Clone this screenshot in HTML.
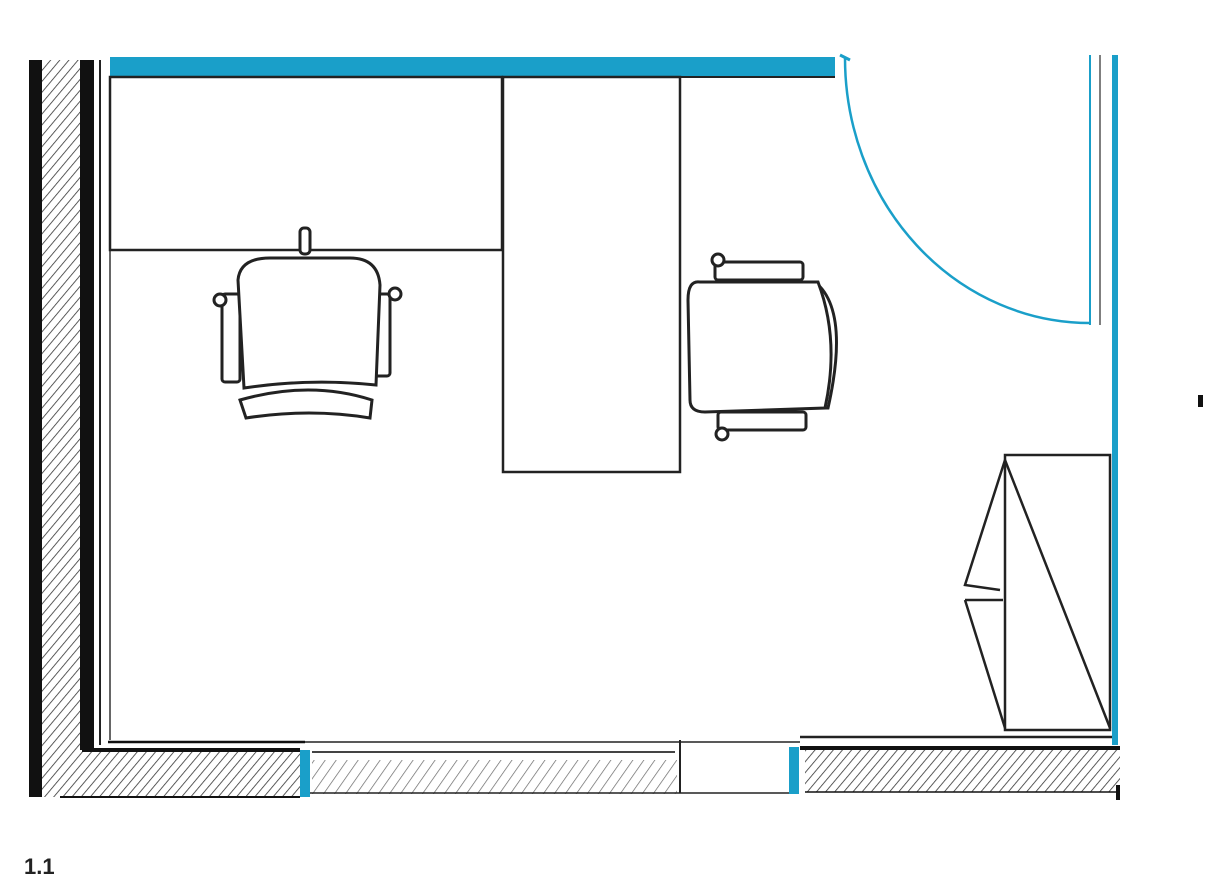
<!DOCTYPE html>
<html><head><style>body{margin:0;background:#fff}svg{display:block}</style></head><body>
<svg width="1206" height="882" viewBox="0 0 1206 882" xmlns="http://www.w3.org/2000/svg">
<defs>
<pattern id="h" width="7" height="7" patternUnits="userSpaceOnUse" patternTransform="rotate(40)">
<rect width="7" height="7" fill="#fff"/><line x1="0" y1="0" x2="0" y2="7" stroke="#333" stroke-width="1.6"/></pattern>
<pattern id="h2" width="9" height="9" patternUnits="userSpaceOnUse" patternTransform="rotate(35)">
<rect width="9" height="9" fill="#fff"/><line x1="0" y1="0" x2="0" y2="9" stroke="#666" stroke-width="1.4"/></pattern>
</defs>
<rect x="42" y="60" width="40" height="737" fill="url(#h)"/>
<rect x="29" y="60" width="13" height="737" fill="#111"/>
<rect x="80" y="60" width="14" height="690" fill="#111"/>
<line x1="100" y1="60" x2="100" y2="745" stroke="#222" stroke-width="2"/>
<line x1="110" y1="77" x2="110" y2="740" stroke="#333" stroke-width="1.5"/>
<rect x="82" y="752" width="218" height="45" fill="url(#h)"/>
<line x1="60" y1="797" x2="300" y2="797" stroke="#111" stroke-width="2"/>
<path d="M82 750 L300 750" stroke="#111" stroke-width="4"/>
<line x1="108" y1="742" x2="305" y2="742" stroke="#111" stroke-width="2.5"/>
<rect x="300" y="750" width="10" height="47" fill="#1a9fc9"/>
<rect x="312" y="760" width="365" height="34" fill="url(#h2)"/>
<line x1="305" y1="742" x2="800" y2="742" stroke="#222" stroke-width="1.5"/>
<line x1="312" y1="752" x2="675" y2="752" stroke="#444" stroke-width="2"/>
<line x1="310" y1="793" x2="790" y2="793" stroke="#222" stroke-width="1.5"/>
<line x1="680" y1="740" x2="680" y2="793" stroke="#222" stroke-width="2"/>
<rect x="789" y="747" width="10" height="47" fill="#1a9fc9"/>
<rect x="805" y="750" width="315" height="42" fill="url(#h)"/>
<rect x="800" y="746" width="320" height="4" fill="#111"/>
<line x1="800" y1="737" x2="1115" y2="737" stroke="#222" stroke-width="2.5"/>
<line x1="805" y1="792" x2="1120" y2="792" stroke="#111" stroke-width="1.5"/>
<rect x="1116" y="785" width="4" height="15" fill="#111"/>
<rect x="110" y="57" width="725" height="20" fill="#1a9fc9"/>
<line x1="110" y1="77" x2="835" y2="77" stroke="#222" stroke-width="2"/>
<rect x="1112" y="55" width="6" height="690" fill="#1a9fc9"/>
<line x1="1090" y1="55" x2="1090" y2="325" stroke="#1a9fc9" stroke-width="2"/>
<line x1="1100" y1="55" x2="1100" y2="325" stroke="#555" stroke-width="1.5"/>
<path d="M845 58 A245 265 0 0 0 1090 323" fill="none" stroke="#1a9fc9" stroke-width="2.5"/>
<line x1="840" y1="55" x2="850" y2="60" stroke="#1a9fc9" stroke-width="3"/>
<rect x="110" y="77" width="392" height="173" fill="none" stroke="#222" stroke-width="2.5"/>
<rect x="503" y="77" width="177" height="395" fill="#fff" stroke="#222" stroke-width="2.5"/>
<g fill="#fff" stroke="#222" stroke-width="3">
<rect x="300" y="228" width="10" height="26" rx="4"/>
<rect x="222" y="294" width="18" height="88" rx="3"/>
<rect x="372" y="294" width="18" height="82" rx="3"/>
<path d="M240 400 Q310 380 372 400 L370 418 Q310 408 246 418 Z"/>
<path d="M238 280 Q240 258 270 258 L350 258 Q378 258 380 285 L376 385 Q310 378 244 388 Z"/>
<circle cx="220" cy="300" r="6"/><circle cx="395" cy="294" r="6"/>
</g>
<g fill="#fff" stroke="#222" stroke-width="3">
<rect x="715" y="262" width="88" height="18" rx="3"/>
<rect x="718" y="412" width="88" height="18" rx="3"/>
<path d="M815 282 Q850 310 828 408 L812 408 Q830 330 808 282 Z"/>
<path d="M700 282 Q688 280 688 300 L690 400 Q690 412 705 412 L825 408 Q840 340 818 282 Z"/>
<circle cx="718" cy="260" r="6"/><circle cx="722" cy="434" r="6"/>
</g>
<g fill="none" stroke="#222" stroke-width="2.5">
<rect x="1005" y="455" width="105" height="275"/>
<path d="M1005 460 L965 585 L1000 590 M1005 460 L1110 728"/>
<path d="M965 600 L1003 600 M965 600 L1005 728"/>
</g>
<rect x="1198" y="395" width="5" height="12" fill="#111"/>
<text x="24" y="874" font-family="Liberation Sans, sans-serif" font-weight="bold" font-size="22" fill="#222">1.1</text>
</svg>
</body></html>
